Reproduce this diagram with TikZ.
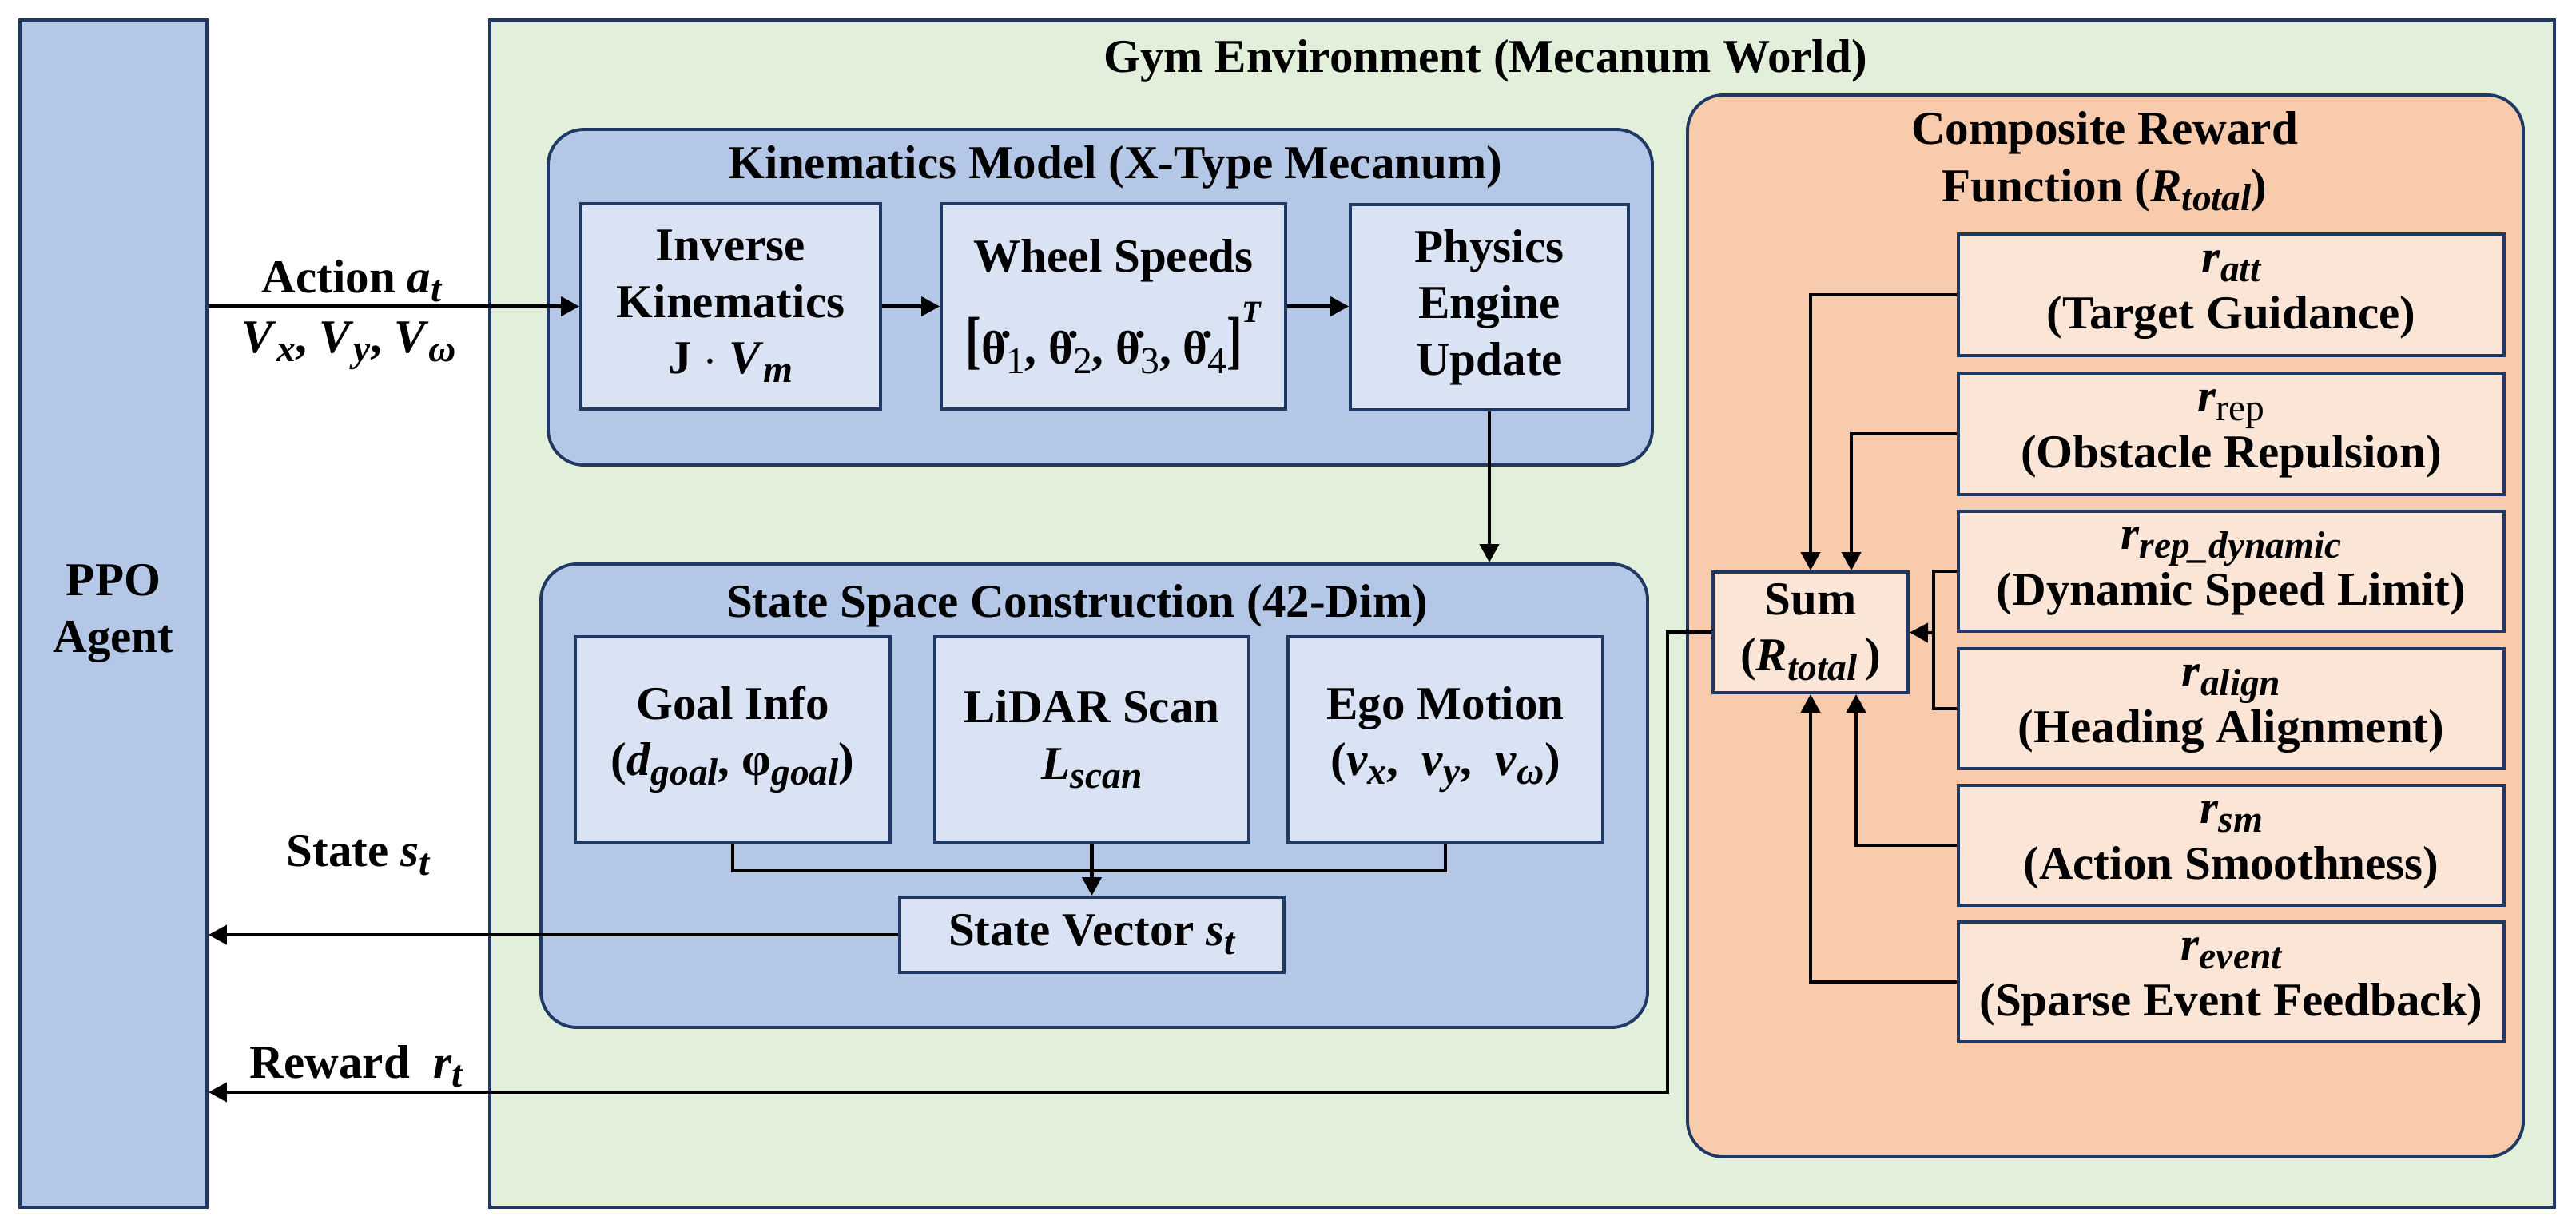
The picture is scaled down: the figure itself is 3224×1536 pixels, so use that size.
\documentclass[tikz,border=0pt]{standalone}
\usepackage{fontspec}
\setmainfont{Liberation Serif}
\usetikzlibrary{arrows.meta}
\definecolor{navy}{HTML}{1F3864}
\definecolor{ppoblue}{HTML}{B4C7E7}
\definecolor{lightblue}{HTML}{DAE3F3}
\definecolor{gymgreen}{HTML}{E2EFDA}
\definecolor{peach}{HTML}{F8CBAD}
\definecolor{lightpeach}{HTML}{FBE5D6}
\newcommand\iv[1]{\textit{#1}}
\newcommand\sbi[1]{\raisebox{-3.2pt}{\fontsize{13.5pt}{14pt}\selectfont\itshape #1}}
\newcommand\sbu[1]{\raisebox{-3.2pt}{\fontsize{13.5pt}{14pt}\selectfont\upshape #1}}
\newcommand\sbn[1]{\raisebox{-3.2pt}{\fontsize{13.5pt}{14pt}\selectfont\mdseries #1}}
\newcommand\bigbr[1]{\raisebox{1pt}{\scalebox{1}[1.35]{#1}}}
\newcommand\mkbox[7]{%
  \pgfmathsetmacro\mkbw{(#5-#3)*0.01}%
  \pgfmathsetmacro\mkbh{(#6-#4)*0.01}%
  \node[#2, minimum width=\mkbw cm, minimum height=\mkbh cm] (#1) at ({(#3+#5)/2},{(#4+#6)/2}) {#7};}
\tikzset{
  txt/.style={font=\fontsize{16.8pt}{20pt}\selectfont\bfseries, align=center},
  box/.style={draw=navy, line width=1.1pt, txt, inner sep=0pt},
  ibox/.style={box, fill=lightblue},
  rbox/.style={box, fill=lightpeach},
  grp/.style={draw=navy, line width=1.1pt, rounded corners=0.45cm, inner sep=0pt},
  arr/.style={-{Triangle[length=0.23cm,width=0.24cm]}, line width=1.2pt},
  conn/.style={line width=1.1pt},
  lbl/.style={txt, anchor=base, inner sep=0pt}
}
\begin{document}
\begin{tikzpicture}[x=0.01cm,y=-0.01cm]
\useasboundingbox[fill=white] (0,0) rectangle (3224,1536);
% main containers
\mkbox{gym}{box, fill=gymgreen}{613}{25}{3197}{1511}{}
\mkbox{ppo}{box, fill=ppoblue}{25}{25}{259}{1511}{PPO\\Agent}
\node[lbl] (gymtitle) at (1859,90) {Gym Environment (Mecanum World)};
% kinematics group
\mkbox{kin}{grp, fill=ppoblue}{686}{162}{2068}{582}{}
\node[lbl] (kintitle) at (1396,223) {Kinematics Model (X-Type Mecanum)};
\mkbox{ik}{ibox}{727}{255}{1102}{512}{Inverse\\Kinematics\\J $\cdot$ \iv{V}\sbi{m}}
\mkbox{ws}{ibox}{1178}{255}{1609}{512}{Wheel Speeds\\[6pt]\bigbr{[}\.{θ}\sbn{1}, \.{θ}\sbn{2}, \.{θ}\sbn{3}, \.{θ}\sbn{4}\bigbr{]}\raisebox{15pt}{\fontsize{11pt}{12pt}\selectfont\itshape T}}
\mkbox{pe}{ibox}{1690}{256}{2038}{513}{Physics\\Engine\\Update}
% state space group
\mkbox{ss}{grp, fill=ppoblue}{677}{706}{2062}{1286}{}
\node[lbl] (sstitle) at (1348,772) {State Space Construction (42-Dim)};
\mkbox{goal}{ibox}{720}{797}{1114}{1054}{Goal Info\\(\iv{d}\sbi{goal}, φ\sbi{goal})}
\mkbox{lidar}{ibox}{1170}{797}{1563}{1054}{LiDAR Scan\\\iv{L}\sbi{scan}}
\mkbox{ego}{ibox}{1612}{797}{2006}{1054}{Ego Motion\\(\iv{v}\sbi{x},\ \ \iv{v}\sbi{y},\ \ \iv{v}\sbi{ω})}
\mkbox{sv}{ibox}{1126}{1123}{1607}{1217}{State Vector \iv{s}\sbi{t}}
% reward group
\mkbox{rew}{grp, fill=peach}{2112}{119}{3158}{1448}{}
\node[lbl] (rt1) at (2634,180) {Composite Reward};
\node[lbl] (rt2) at (2634,252) {Function (\iv{R}\sbi{total})};
\mkbox{ratt}{rbox}{2451}{293}{3134}{445}{\iv{r}\sbi{att}\\(Target Guidance)}
\mkbox{rrep}{rbox}{2451}{467}{3134}{619}{\iv{r}\sbn{rep}\\(Obstacle Repulsion)}
\mkbox{rdyn}{rbox}{2451}{640}{3134}{790}{\iv{r}\sbi{rep\_dynamic}\\(Dynamic Speed Limit)}
\mkbox{ralign}{rbox}{2451}{812}{3134}{962}{\iv{r}\sbi{align}\\(Heading Alignment)}
\mkbox{rsm}{rbox}{2451}{983}{3134}{1133}{\iv{r}\sbi{sm}\\(Action Smoothness)}
\mkbox{revent}{rbox}{2451}{1154}{3134}{1304}{\iv{r}\sbi{event}\\(Sparse Event Feedback)}
\mkbox{sum}{rbox}{2144}{716}{2388}{867}{Sum\\(\iv{R}\sbi{total}\,)}
% labels
\node[lbl] (actlbl) at (440,366) {Action \iv{a}\sbi{t}};
\node[lbl] (vlbl) at (437,441) {\iv{V}\sbi{x}, \iv{V}\sbi{y}, \iv{V}\sbi{ω}};
\node[lbl] (stlbl) at (448,1084) {State \iv{s}\sbi{t}};
\node[lbl] (rwlbl) at (446,1349) {Reward \ \iv{r}\sbi{t}};
% connectors
\draw[arr] (ppo.east |- ik.west) -- (ik.west);
\draw[arr] (ik.east) -- (ws.west);
\draw[arr] (ws.east) -- (pe.west |- ws.east);
\draw[arr] (pe.south) -- (pe.south |- ss.north);
\draw[conn] (goal.south) -- ++(0,34) -| (ego.south);
\draw[arr] (lidar.south) -- (sv.north);
\draw[arr] (sv.west) -- (sv.west -| ppo.east);
\coordinate (rw) at (2087,1367);
\draw[arr] (sum.west) -| (rw) -- (rw -| ppo.east);
\draw[arr] (ratt.west) -| (sum.north);
\draw[arr] (rrep.west) -| ([xshift=0.51cm]sum.north);
\draw[arr] (rsm.west) -| ([xshift=0.57cm]sum.south);
\draw[arr] (revent.west) -| (sum.south);
\coordinate (br) at (2420,792);
\draw[conn] (rdyn.west) -| (br) |- (ralign.west);
\draw[arr] (br) -- (sum.east);
\end{tikzpicture}
\end{document}
